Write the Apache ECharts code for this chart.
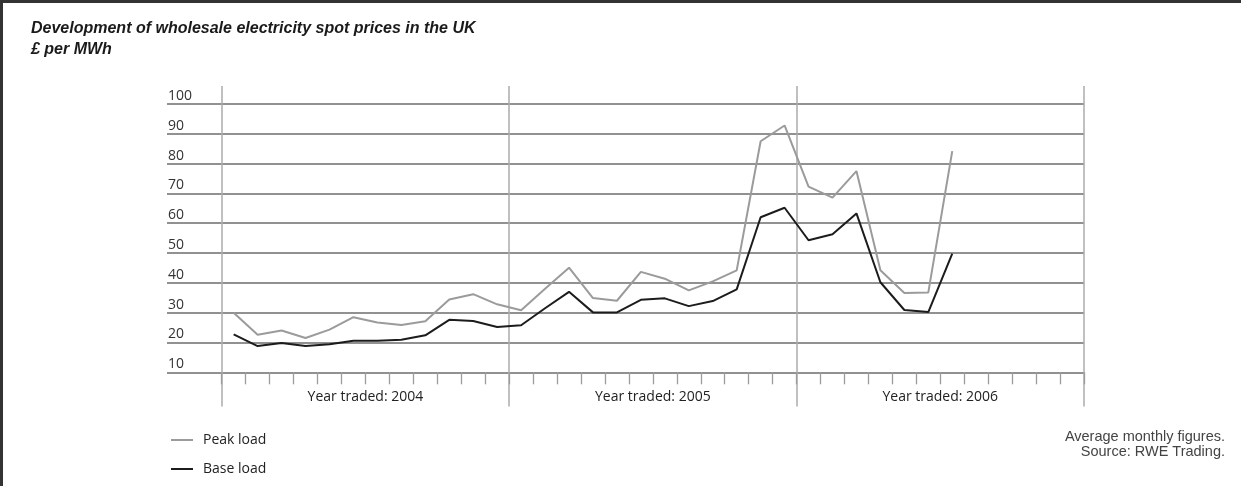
<!DOCTYPE html>
<html>
<head>
<meta charset="utf-8">
<script src="https://cdn.jsdelivr.net/npm/echarts@6/dist/echarts.min.js"></script>
<style>
  html, body { margin: 0; padding: 0; background: #fff; }
  #main { width: 1241px; height: 486px; }
</style>
</head>
<body>
<div id="main"></div>
<script>
// Monthly categories, Jan 2004 – Dec 2006
const months = [
  '2004-01','2004-02','2004-03','2004-04','2004-05','2004-06','2004-07','2004-08','2004-09','2004-10','2004-11','2004-12',
  '2005-01','2005-02','2005-03','2005-04','2005-05','2005-06','2005-07','2005-08','2005-09','2005-10','2005-11','2005-12',
  '2006-01','2006-02','2006-03','2006-04','2006-05','2006-06','2006-07','2006-08','2006-09','2006-10','2006-11','2006-12'
];
const yearLabels = ['Year traded: 2004', 'Year traded: 2005', 'Year traded: 2006'];

// Average monthly spot prices, £ per MWh (Jan 2004 – Jul 2006)
const peakLoad = [
  30.0, 22.6, 24.0, 21.5, 24.3, 28.5, 26.7, 25.9, 27.1, 34.4, 36.2, 32.8,
  30.8, 38.0, 45.1, 34.9, 34.0, 43.7, 41.4, 37.5, 40.5, 44.2, 87.5, 92.8,
  72.3, 68.6, 77.5, 44.2, 36.6, 36.8, 84.2
];
const baseLoad = [
  22.7, 18.8, 19.8, 18.8, 19.4, 20.6, 20.6, 20.9, 22.4, 27.6, 27.2, 25.2,
  25.8, 31.5, 37.0, 30.1, 30.1, 34.3, 34.8, 32.2, 33.9, 37.8, 62.0, 65.2,
  54.3, 56.3, 63.3, 40.2, 30.9, 30.2, 49.8
];

const yMin = 10, yMax = 100, yStep = 10;

const sansTitle = "'Liberation Sans', Arial, sans-serif";
const sansText = "'Open Sans', 'Noto Sans', sans-serif";

const hGrid = { color: '#6c6c6c', width: 1.6 };
const noteStyle = {
  fontFamily: "'Liberation Sans', Arial, sans-serif", fontWeight: 'normal',
  fontSize: 14.5, color: '#444'
};

const chart = echarts.init(document.getElementById('main'), null, { renderer: 'canvas' });

chart.setOption({
  animation: false,
  backgroundColor: '#ffffff',
  title: [
    {
      text: 'Development of wholesale electricity spot prices in the UK\n£ per MWh',
      left: 26, top: 13,
      textStyle: {
        fontFamily: sansTitle, fontStyle: 'italic', fontWeight: 'bold',
        fontSize: 16, lineHeight: 21, color: '#1a1a1a'
      }
    },
    { text: 'Average monthly figures.', right: 11, top: 424, textStyle: noteStyle },
    { text: 'Source: RWE Trading.', right: 11, top: 439, textStyle: noteStyle }
  ],
  legend: {
    orient: 'vertical', left: 166, top: 428,
    icon: 'rect', itemWidth: 22, itemHeight: 2, itemGap: 15,
    textStyle: { fontFamily: sansText, fontSize: 14, color: '#222', padding: [0, 0, 0, 5] },
    data: ['Peak load', 'Base load']
  },
  grid: [
    { left: 167, top: 104, width: 54.7, height: 268.3 },
    { left: 221.7, top: 104, width: 862.3, height: 268.3 },
    { left: 221.7, top: 86, width: 862.3, height: 320.5 }
  ],
  yAxis: [
    {
      gridIndex: 0, type: 'value', min: yMin, max: yMax, interval: yStep,
      axisLine: { show: false }, axisTick: { show: false },
      splitLine: { show: true, lineStyle: hGrid },
      axisLabel: {
        inside: true, margin: 1, align: 'left', verticalAlign: 'bottom',
        padding: [0, 0, 1, 0],
        fontFamily: sansText, fontSize: 14, color: '#333'
      }
    },
    {
      gridIndex: 1, type: 'value', min: yMin, max: yMax, interval: yStep,
      axisLine: { show: false }, axisTick: { show: false }, axisLabel: { show: false },
      splitLine: { show: true, lineStyle: hGrid }
    },
    { gridIndex: 2, type: 'value', show: false }
  ],
  xAxis: [
    { gridIndex: 0, type: 'value', show: false, min: 0, max: 1 },
    {
      gridIndex: 1, type: 'category', data: months, boundaryGap: true,
      axisLine: { show: false },
      axisTick: { show: true, interval: 0, length: 12, lineStyle: { color: '#9c9c9c', width: 1.3 } },
      axisLabel: { show: false }, splitLine: { show: false }
    },
    {
      gridIndex: 1, type: 'category', data: yearLabels, boundaryGap: true, position: 'bottom',
      axisLine: { show: false }, axisTick: { show: false }, splitLine: { show: false },
      axisLabel: { margin: 18, fontFamily: sansText, fontSize: 14, color: '#222' }
    },
    {
      gridIndex: 2, type: 'value', min: 0, max: 36, interval: 12,
      axisLine: { show: false }, axisTick: { show: false }, axisLabel: { show: false },
      splitLine: { show: true, lineStyle: { color: '#ababab', width: 1.5 } }
    }
  ],
  series: [
    {
      name: 'Peak load', type: 'line', xAxisIndex: 1, yAxisIndex: 1,
      data: peakLoad, showSymbol: false, symbol: 'none',
      lineStyle: { color: '#9b9b9b', width: 2 }, itemStyle: { color: '#9b9b9b' }
    },
    {
      name: 'Base load', type: 'line', xAxisIndex: 1, yAxisIndex: 1,
      data: baseLoad, showSymbol: false, symbol: 'none',
      lineStyle: { color: '#1c1c1c', width: 2 }, itemStyle: { color: '#1c1c1c' }
    }
  ],
  graphic: [
    { type: 'line', shape: { x1: 0, y1: 1.5, x2: 1241, y2: 1.5 }, style: { stroke: '#333', lineWidth: 3 } },
    { type: 'line', shape: { x1: 1.5, y1: 0, x2: 1.5, y2: 486 }, style: { stroke: '#333', lineWidth: 3 } }
  ]
});
</script>
</body>
</html>
